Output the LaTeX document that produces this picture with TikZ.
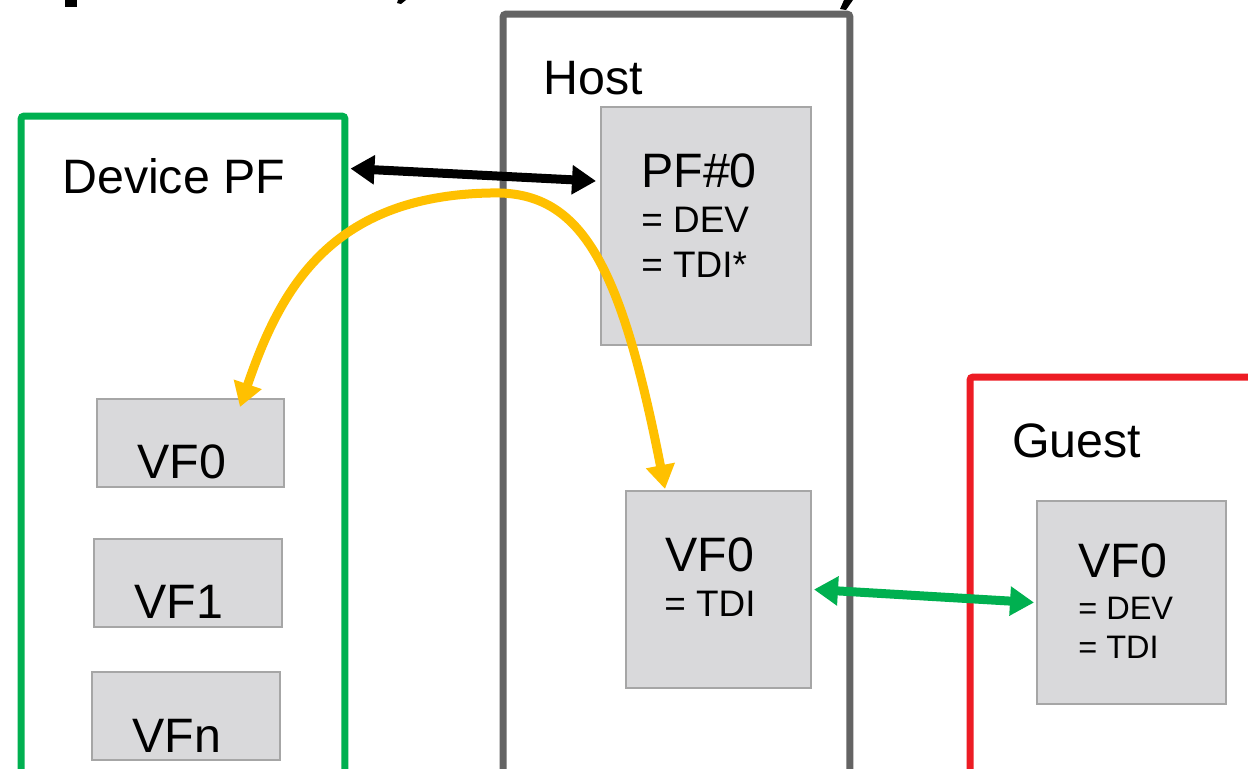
\documentclass[tikz,border=0pt]{standalone}
\usepackage{fontspec}
\setmainfont{Liberation Sans}
\usetikzlibrary{arrows.meta}
\definecolor{pfgreen}{HTML}{00B050}
\definecolor{hostgray}{HTML}{646464}
\definecolor{guestred}{HTML}{ED1C24}
\definecolor{boxfill}{HTML}{D9D9DB}
\definecolor{boxline}{HTML}{A6A6A6}
\definecolor{linkyellow}{HTML}{FFC000}
\tikzset{
  container/.style={draw, line width=0.14cm, rounded corners=0.06cm, inner sep=0pt},
  fnbox/.style={draw=boxline, fill=boxfill, line width=0.04cm, inner sep=0pt},
  biglabel/.style={anchor=base west, inner sep=0pt, font=\fontsize{27.5}{30}\selectfont},
  midlabel/.style={anchor=base west, inner sep=0pt, font=\fontsize{21}{23}\selectfont},
  smalllabel/.style={anchor=base west, inner sep=0pt, font=\fontsize{18.5}{20}\selectfont},
  link/.style={line width=0.18cm, {Triangle[length=0.48cm,width=0.56cm]}-{Triangle[length=0.48cm,width=0.56cm]}},
}
\begin{document}
\begin{tikzpicture}[x=0.02cm, y=-0.02cm]
\clip (0,0) rectangle (1248,768);
\fill[white] (0,0) rectangle (1248,768);

% remains of the heading line above
\fill[black] (65,0) rectangle (77,7);
\fill[black] (398,0) -- (406,0) -- (401,4) -- (397,3) -- cycle;
\fill[black] (844,0) -- (853,0) -- (846,10) -- (840,9) -- cycle;

% containers (open towards the bottom edge)
\node[container, draw=pfgreen, minimum width=6.48cm, minimum height=15.68cm] (devpf) at (183,508) {};
\node[container, draw=hostgray, minimum width=6.94cm, minimum height=17.72cm] (host) at (676.5,457) {};
\node[container, draw=guestred, minimum width=6.6cm, minimum height=10.46cm] (guest) at (1135,638.5) {};

\node[biglabel] (devpflbl) at (62,193) {Device PF};
\node[biglabel] (hostlbl) at (543,94) {Host};
\node[biglabel] (guestlbl) at (1012,457) {Guest};

% functions on the device
\node[fnbox, minimum width=3.74cm, minimum height=1.76cm] (devvf0) at (190.5,443) {};
\node[fnbox, minimum width=3.76cm, minimum height=1.76cm] (devvf1) at (188,583) {};
\node[fnbox, minimum width=3.76cm, minimum height=1.76cm] (devvfn) at (186,716) {};
\node[biglabel] (devvf0lbl) at (137,478) {VF0};
\node[biglabel] (devvf1lbl) at (134,618) {VF1};
\node[biglabel] (devvfnlbl) at (132,752) {VFn};

% host side
\node[fnbox, minimum width=4.2cm, minimum height=4.76cm] (pf0) at (706,226) {};
\node[biglabel] (pf0lbl) at (641,187) {PF\#0};
\node[midlabel] (pf0dev) at (641,232) {= DEV};
\node[midlabel] (pf0tdi) at (641,277) {= TDI*};

\node[fnbox, minimum width=3.7cm, minimum height=3.94cm] (hostvf) at (718.5,589.5) {};
\node[biglabel] (hostvflbl) at (665,571) {VF0};
\node[midlabel] (hostvftdi) at (664,616) {= TDI};

% guest side
\node[fnbox, minimum width=3.78cm, minimum height=4.06cm] (guestvf) at (1131.5,602.5) {};
\node[biglabel] (guestvflbl) at (1078,577) {VF0};
\node[smalllabel] (guestvfdev) at (1078,619) {= DEV};
\node[smalllabel] (guestvftdi) at (1078,658) {= TDI};

% connections
\draw[link, black] ([shift={(0.04cm,-1.12cm)}]devpf.north east) -- ([shift={(-0.08cm,-1.5cm)}]pf0.north west);
\draw[link, linkyellow]
  ([shift={(0.99cm,-0.18cm)}]devvf0.north)
  .. controls (280,290) and (330,196) .. (490,193)
  .. controls (580,190) and (620,260) .. ([shift={(-1.07cm,0.02cm)}]hostvf.north);
\draw[link, pfgreen] ([xshift=0.04cm]hostvf.east) -- ([xshift=-0.04cm]guestvf.west);
\end{tikzpicture}
\end{document}
